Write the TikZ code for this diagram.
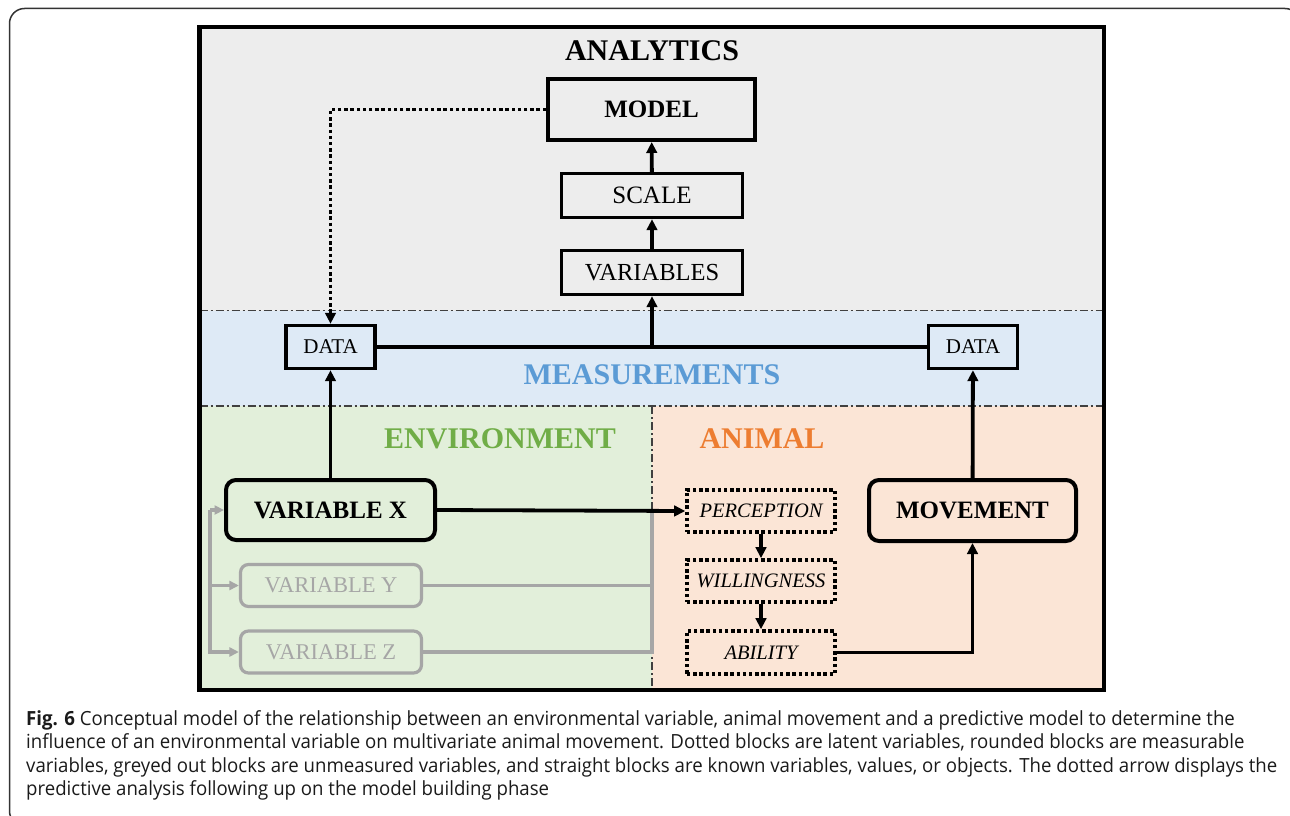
\documentclass[tikz,border=0pt]{standalone}
\usepackage{fontspec}
\setmainfont{Liberation Serif}
\newfontfamily\capfont[FakeStretch=0.955]{Open Sans}
\usetikzlibrary{arrows.meta}
\definecolor{anbg}{HTML}{EDEDED}
\definecolor{mebg}{HTML}{DEEAF6}
\definecolor{envbg}{HTML}{E2EFDA}
\definecolor{anibg}{HTML}{FBE5D6}
\definecolor{meblue}{HTML}{5B9BD5}
\definecolor{envgreen}{HTML}{70AD47}
\definecolor{aniorange}{HTML}{ED7D31}
\definecolor{greyvar}{HTML}{A6A6A6}
\definecolor{captxt}{HTML}{1A1A1A}
\newcommand\fsz[1]{\fontsize{#1}{#1}\selectfont}
\tikzset{
  sectitle/.style={font=\fsz{30}\bfseries, inner sep=0pt},
  sqbox/.style={draw, line width=3.4pt, inner sep=0pt, font=\fsz{25}},
  bigsq/.style={sqbox, line width=4pt, font=\fsz{25}\bfseries},
  rbox/.style={draw, line width=4pt, rounded corners=10pt, inner sep=0pt, font=\fsz{25}\bfseries},
  greybox/.style={draw=greyvar, text=greyvar, line width=3.2pt, rounded corners=8pt, inner sep=0pt, font=\fsz{22.5}},
  latbox/.style={draw, line width=3.6pt, dash pattern=on 3.4pt off 2.8pt, inner sep=0pt, font=\fsz{20.5}\itshape},
  arr/.style={line width=3.8pt, -{Triangle[length=11pt,width=10.5pt]}},
  conn/.style={line width=3.8pt},
  dotarr/.style={line width=3.8pt, dash pattern=on 3.4pt off 2.8pt, -{Triangle[length=11pt,width=10.5pt]}},
  greyline/.style={draw=greyvar, line width=3.2pt},
  greyarr/.style={draw=greyvar, line width=3.2pt, -{Triangle[length=9.5pt,width=9pt]}},
  sepline/.style={draw=black!75, line width=1.5pt, dash pattern=on 8pt off 3pt on 2pt off 3pt},
  capline/.style={font=\capfont\fsz{19.5}, text=captxt, inner sep=0pt, anchor=base west},
}
\begin{document}
\begin{tikzpicture}[x=1pt,y=-1pt]
\useasboundingbox (0,0) rectangle (1290,816);
% outer frame of the figure
\begin{scope}
  \clip (0,0) rectangle (1290,816);
  \draw[black!80, line width=1.5pt, rounded corners=15pt] (9.5,8.5) rectangle (1300,826);
\end{scope}
% region backgrounds
\fill[anbg] (199.5,26.5) rectangle (1104,310.5);
\fill[mebg] (199.5,310.5) rectangle (1104,406);
\fill[envbg] (199.5,406) rectangle (652,690);
\fill[anibg] (652,406) rectangle (1104,690);
\draw[sepline] (199.5,310.5) -- (1104,310.5);
\draw[sepline] (199.5,406) -- (1104,406);
\draw[sepline] (652,406) -- (652,690);
% section titles
\node[sectitle] (tan) at (652,51) {ANALYTICS};
\node[sectitle, text=meblue] (tme) at (652,375) {MEASUREMENTS};
\node[sectitle, text=envgreen] (tenv) at (500,439) {ENVIRONMENT};
\node[sectitle, text=aniorange] (tani) at (762,439) {ANIMAL};
% analytics boxes
\node[bigsq, minimum width=207pt, minimum height=61pt] (model) at (651.5,109.5) {MODEL};
\node[sqbox, minimum width=181pt, minimum height=44pt] (scale) at (652,195.5) {SCALE};
\node[sqbox, minimum width=181pt, minimum height=44pt, font=\fsz{24.5}] (vars) at (652,272.5) {VARIABLES};
% data boxes
\node[sqbox, minimum width=89pt, minimum height=43pt, font=\fsz{21}] (datal) at (330.5,347) {DATA};
\node[sqbox, minimum width=89pt, minimum height=43pt, font=\fsz{21}] (datar) at (973,347) {DATA};
% environment
\node[rbox, minimum width=209pt, minimum height=60pt] (vx) at (330.5,510) {VARIABLE X};
\node[greybox, minimum width=181pt, minimum height=42pt] (vy) at (331,585.5) {VARIABLE Y};
\node[greybox, minimum width=181pt, minimum height=42pt] (vz) at (331,652) {VARIABLE Z};
% animal
\node[latbox, minimum width=148pt, minimum height=42pt] (perc) at (761,511) {PERCEPTION};
\node[latbox, minimum width=148pt, minimum height=42pt] (will) at (761,581) {WILLINGNESS};
\node[latbox, minimum width=148pt, minimum height=43pt] (abil) at (761,652.5) {ABILITY};
\node[rbox, minimum width=207pt, minimum height=61pt] (move) at (972.5,510.5) {MOVEMENT};
% helper coordinates
\coordinate (mj) at (652,347);
\coordinate (dj) at (330.5,109.5);
\coordinate (gj) at (652,510);
\coordinate (gl) at (210,510);
% connectors
\draw[arr] (scale) -- (model);
\draw[arr] (vars) -- (scale);
\draw[conn] (datal) -- (datar);
\draw[arr] (mj) -- (vars);
\draw[dotarr] (model.west) -- (dj) -- (datal.north);
\draw[arr] (vx) -- (datal);
\draw[arr] (move) -- (datar);
\draw[greyline] (vy.east) -| (gj);
\draw[greyline] (vz.east) -| (gj);
\draw[greyarr] (gl) -- (vx.west);
\draw[greyarr] (gl) |- (vy.west);
\draw[greyarr] (gl) |- (vz.west);
\draw[arr] (vx.east) -- (perc.west);
\draw[arr] (perc) -- (will);
\draw[arr] (will) -- (abil);
\draw[arr] (abil.east) -| (move.south);
% outer border of the diagram
\draw[line width=4.2pt] (199.5,26.8) rectangle (1104,690);
% caption
\node[capline] (cap1) at (26,725) {\textbf{Fig. 6} Conceptual model of the relationship between an environmental variable, animal movement and a predictive model to determine the};
\node[capline] (cap2) at (26,748.5) {influence of an environmental variable on multivariate animal movement. Dotted blocks are latent variables, rounded blocks are measurable};
\node[capline] (cap3) at (26,772) {variables, greyed out blocks are unmeasured variables, and straight blocks are known variables, values, or objects. The dotted arrow displays the};
\node[capline] (cap4) at (26,795.5) {predictive analysis following up on the model building phase};
\end{tikzpicture}
\end{document}
